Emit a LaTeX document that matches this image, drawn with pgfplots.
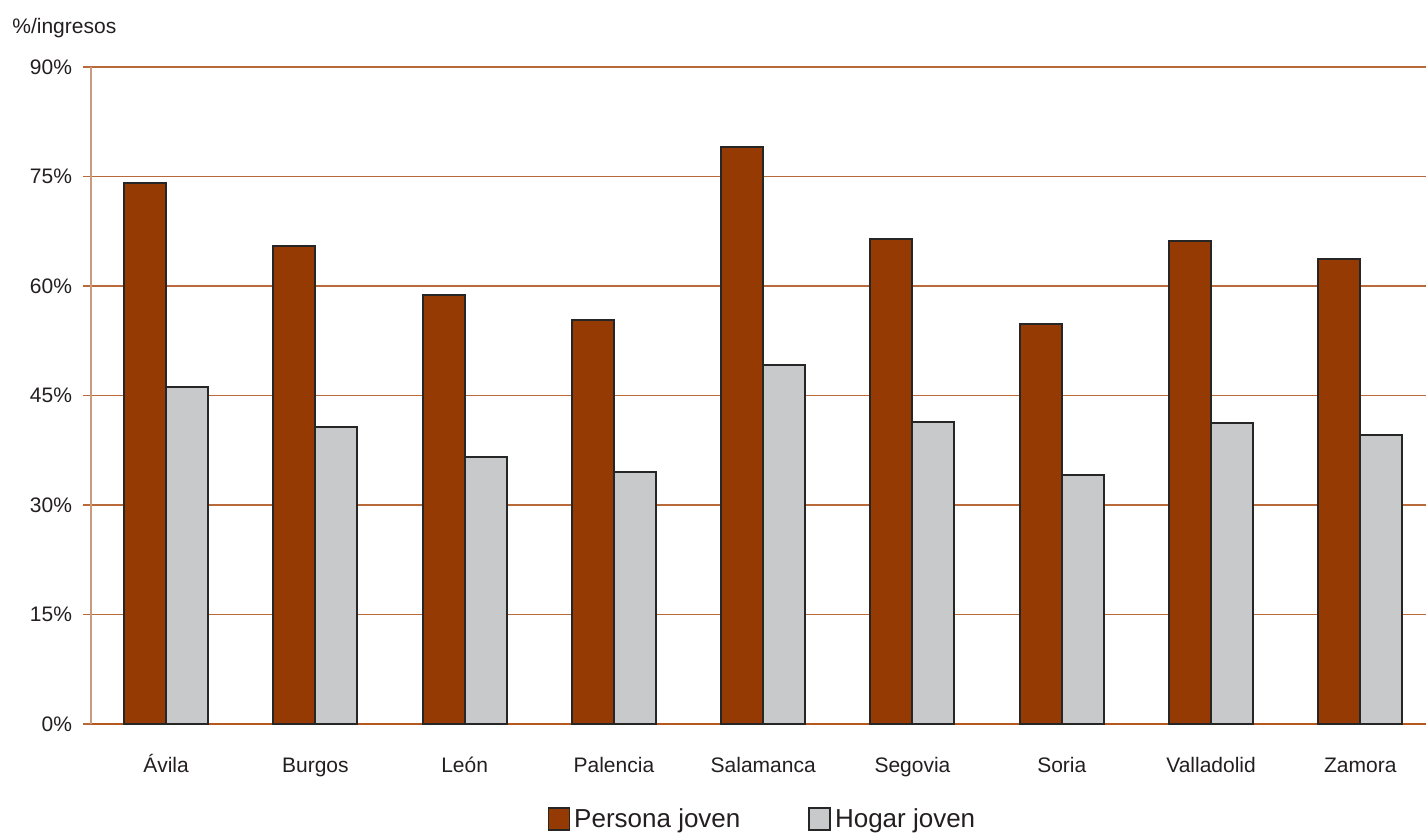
\documentclass[border=0pt]{standalone}
\usepackage{pgfplots}
\pgfplotsset{compat=1.18}
\usepackage{fontspec}
\setmainfont{Liberation Sans}
\definecolor{persona}{HTML}{943A02}
\definecolor{hogar}{HTML}{C8C9CA}
\definecolor{gridc}{HTML}{B96A3A}
\definecolor{axc}{HTML}{C99A7E}
\definecolor{xaxc}{HTML}{B5581F}
\definecolor{txt}{HTML}{231F20}
\begin{document}
\begin{tikzpicture}
\useasboundingbox (-45.5pt,-54pt) rectangle (667.5pt,362pt);
\begin{axis}[
  at={(0pt,0pt)}, anchor=south west,
  scale only axis, width=667.5pt, height=328.5pt,
  ymin=0, ymax=90, xmin=-0.503, xmax=8.44,
  ybar=0pt, bar width=21pt,
  ytick={0,15,...,90},
  yticklabels={0\%,15\%,30\%,45\%,60\%,75\%,90\%},
  xtick={0,...,8},
  xticklabels={Ávila,Burgos,León,Palencia,Salamanca,Segovia,Soria,Valladolid,Zamora},
  axis x line*=bottom, axis y line*=left,
  x axis line style={-, draw=xaxc, line width=0.7pt},
  y axis line style={-, draw=axc, line width=0.8pt},
  ymajorgrids, grid style={gridc, line width=0.55pt},
  tick align=outside, major tick length=4pt,
  ytick style={gridc, line width=0.6pt}, xtick style={draw=none},
  yticklabel style={font=\fontsize{10.5}{12}\selectfont, text=txt, xshift=-2pt},
  xticklabel style={font=\fontsize{10.5}{12}\selectfont, text=txt, text height=9.6pt, text depth=2.5pt, yshift=-7pt},
  legend style={draw=none, fill=none, at={(0.5037,0)}, anchor=center, yshift=-48pt,
    legend columns=2, font=\fontsize{13}{15}\selectfont, text=txt,
    /tikz/every even column/.append style={column sep=32pt}},
  legend cell align=left,
  legend image code/.code={\draw[#1, line width=0.8pt] (0pt,-5pt) rectangle (10.5pt,6pt);},
]
\addplot[fill=persona, draw=black!85, line width=1pt] coordinates {
  (0,74.1) (1,65.5) (2,58.8) (3,55.3) (4,79.0) (5,66.4) (6,54.8) (7,66.2) (8,63.7)};
\addplot[fill=hogar, draw=black!85, line width=1pt] coordinates {
  (0,46.2) (1,40.7) (2,36.6) (3,34.5) (4,49.2) (5,41.4) (6,34.1) (7,41.2) (8,39.6)};
\legend{Persona joven, Hogar joven}
\end{axis}
\node[anchor=west, font=\fontsize{10.5}{12}\selectfont, text=txt, inner sep=0pt] at (-39.5pt,348pt) {\%/ingresos};
\end{tikzpicture}
\end{document}
